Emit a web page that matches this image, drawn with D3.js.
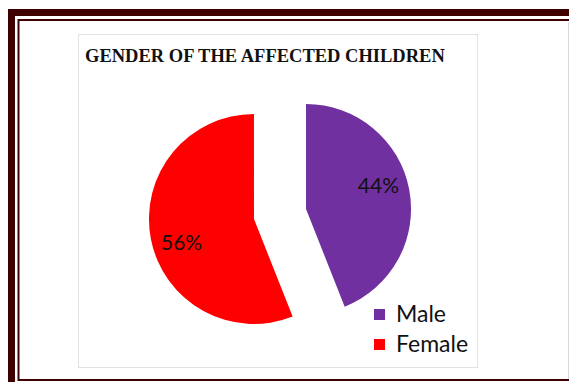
<!DOCTYPE html>
<html>
<head>
<meta charset="utf-8">
<script src="https://cdn.jsdelivr.net/npm/d3@7"></script>
<style>
  html, body { margin: 0; padding: 0; background: #fff; }
  svg { display: block; }
</style>
</head>
<body>
<svg id="chart" width="569" height="382"></svg>
<script>
// Chart data
const categories = ["Male", "Female"];
const percentages = [44, 56];
const colors = ["#7030A0", "#FF0000"];
const title = "GENDER OF THE AFFECTED CHILDREN";

const svg = d3.select("#chart");

// Decorative double frame (runs past the right and bottom edges)
svg.append("rect")
  .attr("x", 11.5).attr("y", 12.5)
  .attr("width", 600).attr("height", 400)
  .attr("fill", "none").attr("stroke", "#3f0000").attr("stroke-width", 7);
svg.append("rect")
  .attr("x", 18.5).attr("y", 20)
  .attr("width", 600).attr("height", 360)
  .attr("fill", "none").attr("stroke", "#3f0000").attr("stroke-width", 2);
svg.append("line")
  .attr("x1", 568.5).attr("x2", 568.5).attr("y1", 22).attr("y2", 379)
  .attr("stroke", "#d8d8d8").attr("stroke-width", 1);

// Chart area
svg.append("rect")
  .attr("x", 78.5).attr("y", 34.5)
  .attr("width", 399).attr("height", 333)
  .attr("fill", "#fff").attr("stroke", "#e2e2e2").attr("stroke-width", 1);

svg.append("text")
  .attr("x", 85).attr("y", 62)
  .attr("font-family", "'Liberation Serif', 'Times New Roman', serif")
  .attr("font-weight", "bold")
  .attr("font-size", 18.5)
  .attr("fill", "#111")
  .text(title);

// Pie with both slices pulled out from the centre
const cx = 280, cy = 214, radius = 105, explode = 26.5;
const labelRadius = 76, labelTurn = -7 * Math.PI / 180;
const data = categories.map((c, i) => ({ name: c, value: percentages[i], color: colors[i] }));
const pie = d3.pie().value(d => d.value).sort(null);
const arc = d3.arc().innerRadius(0).outerRadius(radius);

const slices = svg.append("g")
  .attr("transform", `translate(${cx},${cy})`)
  .selectAll("g")
  .data(pie(data))
  .join("g")
  .attr("transform", d => {
    const a = (d.startAngle + d.endAngle) / 2;
    return `translate(${Math.sin(a) * explode},${-Math.cos(a) * explode})`;
  });

slices.append("path")
  .attr("d", arc)
  .attr("fill", d => d.data.color);

slices.append("text")
  .attr("transform", d => {
    const a = (d.startAngle + d.endAngle) / 2 + labelTurn;
    return `translate(${Math.sin(a) * labelRadius},${-Math.cos(a) * labelRadius})`;
  })
  .attr("text-anchor", "middle")
  .attr("dy", "0.36em")
  .attr("font-family", "Lato, 'Open Sans', sans-serif")
  .attr("font-size", 21)
  .attr("fill", "#111")
  .text(d => d.data.value + "%");

// Legend
const legend = svg.append("g")
  .selectAll("g")
  .data(data)
  .join("g")
  .attr("transform", (d, i) => `translate(374,${309 + i * 30})`);

legend.append("rect")
  .attr("width", 11).attr("height", 11)
  .attr("fill", d => d.color);

legend.append("text")
  .attr("x", 22).attr("y", 13)
  .attr("font-family", "Lato, 'Open Sans', sans-serif")
  .attr("font-size", 23)
  .attr("fill", "#111")
  .text(d => d.name);
</script>
</body>
</html>
